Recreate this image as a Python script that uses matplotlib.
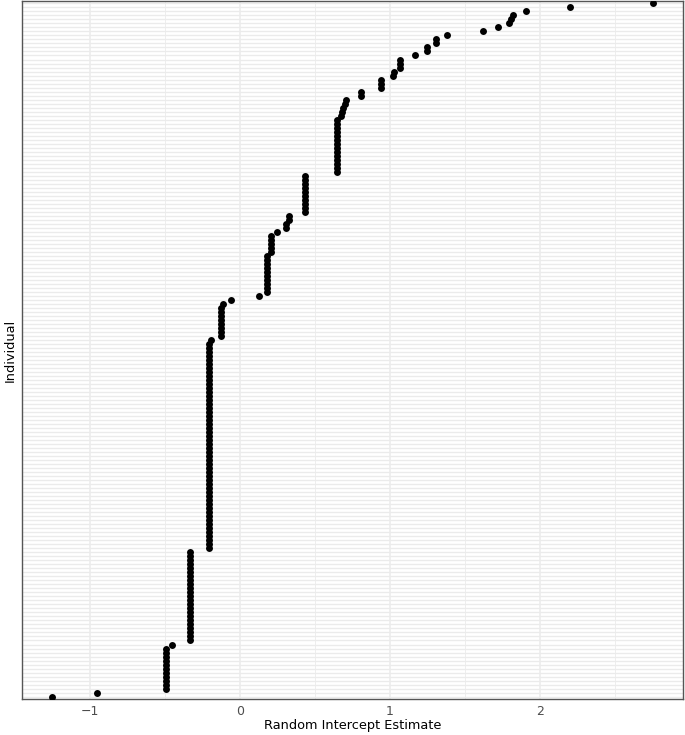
import numpy as np
import matplotlib
matplotlib.use("Agg")
import matplotlib.pyplot as plt

# Estimated random intercepts (distinct values, with the number of individuals at each)
cluster_values = [-1.253, -0.955, -0.49, -0.45, -0.33, -0.205, -0.19, -0.127, -0.115,
                  -0.06, 0.13, 0.18, 0.21, 0.245, 0.31, 0.33, 0.433, 0.645, 0.675,
                  0.68, 0.69, 0.70, 0.71, 0.807, 0.94, 1.02, 1.03, 1.07, 1.167, 1.25, 1.31,
                  1.38, 1.62, 1.72, 1.795, 1.81, 1.82, 1.905, 2.205, 2.755]
cluster_counts = [1, 1, 11, 1, 23, 52, 1, 8, 1,
                  1, 1, 10, 5, 1, 2, 2, 10, 14, 1,
                  1, 1, 1, 1, 2, 3, 1, 1, 3, 1, 2, 2,
                  1, 1, 1, 1, 1, 1, 1, 1, 1]
x_ticks = [-1, 0, 1, 2]
x_minor = [-0.5, 0.5, 1.5, 2.5]

estimates = np.sort(np.repeat(cluster_values, cluster_counts))
n = len(estimates)
individuals = np.arange(n)

fig = plt.figure(figsize=(6.85, 7.35), dpi=100)
ax = fig.add_axes([22/685, 36/735, 661/685, 698/735])

grid_c = "#ebebeb"
for yy in individuals:
    ax.axhline(yy, color=grid_c, lw=1.0, zorder=0)
for xx in x_ticks:
    ax.axvline(xx, color=grid_c, lw=1.1, zorder=0)
for xx in x_minor:
    ax.axvline(xx, color=grid_c, lw=0.6, zorder=0)

ax.scatter(estimates, individuals, s=25, color="black", zorder=3, linewidths=0)

lo, hi = estimates.min(), estimates.max()
pad = 0.05 * (hi - lo)
ax.set_xlim(lo - pad, hi + pad)
ax.set_ylim(-0.6, n - 1 + 0.6)

ax.set_xticks(x_ticks)
ax.set_xticklabels(["\u22121", "0", "1", "2"])
ax.set_yticks([])
ax.tick_params(axis="x", length=0, pad=4, labelsize=9, labelcolor="#4d4d4d")
for sp in ax.spines.values():
    sp.set_color("#555555")
    sp.set_linewidth(1.0)

ax.set_xlabel("Random Intercept Estimate", fontsize=9.3, labelpad=1)
ax.set_ylabel("Individual", fontsize=9.3, labelpad=4)

fig.savefig("out.png", dpi=100)
